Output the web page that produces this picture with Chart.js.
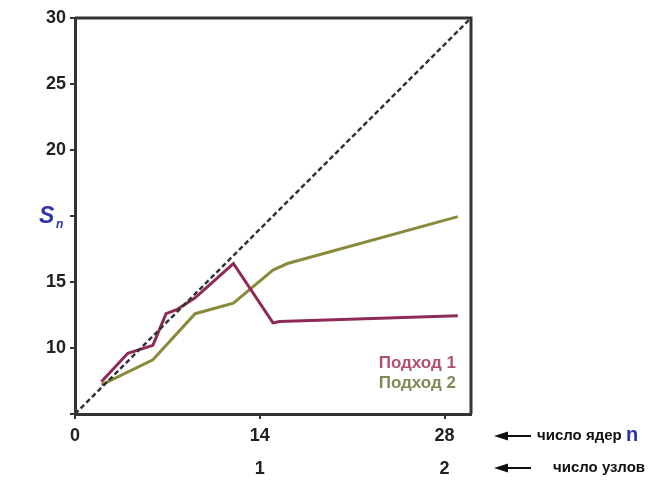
<!DOCTYPE html>
<html>
<head>
<meta charset="utf-8">
<script src="https://cdn.jsdelivr.net/npm/chart.js@4/dist/chart.umd.min.js"></script>
<style>
  html, body { margin: 0; padding: 0; background: #fff; }
  #wrap { width: 655px; height: 482px; position: relative; }
</style>
</head>
<body>
<div id="wrap"><canvas id="chart"></canvas></div>
<script>
// ===== Data =====
const approach1X = [2.0, 4.0, 5.9, 6.9, 7.7, 9.1, 12.0, 15.0, 15.5, 29.0];
const approach1Y = [2.45, 4.6, 5.2, 7.6, 7.9, 8.8, 11.4, 6.9, 7.0, 7.45];
const approach2X = [2.0, 5.9, 9.1, 12.0, 15.0, 16.1, 29.0];
const approach2Y = [2.2, 4.1, 7.6, 8.4, 10.9, 11.4, 14.95];
const idealX = [0, 30];
const idealY = [0, 30];

const yTickValues = [0, 5, 10, 15, 20, 25, 30];
const yTickLabels = ['', '10', '15', '', '20', '25', '30'];
const xTickValues = [0, 14, 28];
const coreLabels = ['0', '14', '28'];
const nodeLabels = ['', '1', '2'];

const seriesNames = ['Подход 1', 'Подход 2'];
const toPoints = (xs, ys) => xs.map((x, i) => ({ x: x, y: ys[i] }));

const AXIS = '#333333';
const FONT = '"Liberation Sans", Arial, sans-serif';

// ===== Extra drawing: frame, labels, legend =====
const decorPlugin = {
  id: 'decor',
  afterDraw(chart) {
    const { ctx, chartArea: a } = chart;
    ctx.save();
    // top and right sides of frame
    ctx.strokeStyle = AXIS;
    ctx.lineWidth = 3;
    ctx.beginPath();
    ctx.moveTo(a.left, a.top);
    ctx.lineTo(a.right, a.top);
    ctx.lineTo(a.right, a.bottom);
    ctx.stroke();

    // S_n axis title
    ctx.fillStyle = '#2b35a8';
    ctx.textBaseline = 'alphabetic';
    ctx.textAlign = 'left';
    ctx.font = 'italic bold 23px ' + FONT;
    ctx.fillText('S', 39, 223);
    ctx.font = 'italic bold 12px ' + FONT;
    ctx.fillText('n', 56, 228);

    // legend text
    ctx.textAlign = 'right';
    ctx.textBaseline = 'middle';
    ctx.font = 'bold 17px ' + FONT;
    ctx.fillStyle = '#b0506e';
    ctx.fillText(seriesNames[0], a.right - 15, 363);
    ctx.fillStyle = '#7f8a55';
    ctx.fillText(seriesNames[1], a.right - 15, 383);

    // arrows with captions
    const rows = [
      { y: 436, text: 'число ядер ', textX: 537, extra: 'n' },
      { y: 468, text: 'число узлов', textX: 553, extra: '' }
    ];
    ctx.textAlign = 'left';
    rows.forEach(r => {
      ctx.strokeStyle = '#111';
      ctx.fillStyle = '#111';
      ctx.lineWidth = 2;
      ctx.beginPath();
      ctx.moveTo(506, r.y);
      ctx.lineTo(531, r.y);
      ctx.stroke();
      ctx.beginPath();
      ctx.moveTo(494, r.y);
      ctx.lineTo(508, r.y - 4.5);
      ctx.lineTo(508, r.y + 4.5);
      ctx.closePath();
      ctx.fill();
      ctx.font = 'bold 15px ' + FONT;
      ctx.fillText(r.text, r.textX, r.y);
      if (r.extra) {
        const w = ctx.measureText(r.text).width;
        ctx.fillStyle = '#2b35a8';
        ctx.font = 'bold 20px ' + FONT;
        ctx.fillText(r.extra, r.textX + w, r.y - 1);
      }
    });
    ctx.restore();
  }
};

new Chart(document.getElementById('chart'), {
  type: 'line',
  data: {
    datasets: [
      {
        data: toPoints(idealX, idealY),
        borderColor: '#333', borderWidth: 2.5, borderDash: [5, 3],
        pointRadius: 0, tension: 0
      },
      {
        label: seriesNames[0],
        data: toPoints(approach1X, approach1Y),
        borderColor: '#8e2a58', borderWidth: 3,
        pointRadius: 0, tension: 0
      },
      {
        label: seriesNames[1],
        data: toPoints(approach2X, approach2Y),
        borderColor: '#8a8a3c', borderWidth: 3,
        pointRadius: 0, tension: 0
      }
    ]
  },
  options: {
    responsive: true,
    maintainAspectRatio: false,
    animation: false,
    layout: { padding: { left: 0, right: 184, top: 18, bottom: 0 } },
    plugins: { legend: { display: false }, tooltip: { enabled: false } },
    scales: {
      x: {
        type: 'linear', min: 0, max: 30,
        afterFit: s => { s.height = 68; },
        afterBuildTicks: s => { s.ticks = xTickValues.map(v => ({ value: v })); },
        grid: { drawOnChartArea: false, color: AXIS, lineWidth: 2, tickLength: 5 },
        border: { color: AXIS, width: 3 },
        ticks: {
          padding: 1, maxRotation: 0, autoSkip: false,
          color: '#222', font: { family: FONT, size: 18, weight: 'bold', lineHeight: 1.8 },
          callback: v => {
            const i = xTickValues.indexOf(v);
            return [coreLabels[i], nodeLabels[i]];
          }
        }
      },
      y: {
        type: 'linear', min: 0, max: 30,
        afterFit: s => { s.width = 75; },
        afterBuildTicks: s => { s.ticks = yTickValues.map(v => ({ value: v })); },
        grid: { drawOnChartArea: false, color: AXIS, lineWidth: 2, tickLength: 5 },
        border: { color: AXIS, width: 3 },
        ticks: {
          padding: 4, color: '#222', font: { family: FONT, size: 18, weight: 'bold' },
          callback: v => yTickLabels[yTickValues.indexOf(v)]
        }
      }
    }
  },
  plugins: [decorPlugin]
});
</script>
</body>
</html>
